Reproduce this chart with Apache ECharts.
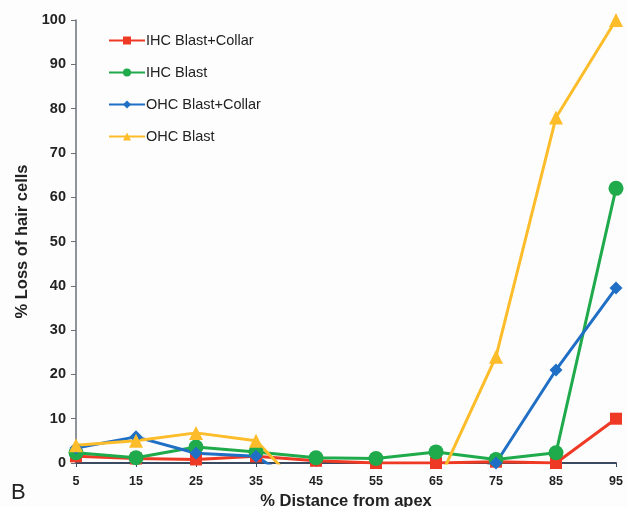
<!DOCTYPE html>
<html><head><meta charset="utf-8">
<script src="https://cdn.jsdelivr.net/npm/echarts@6/dist/echarts.min.js"></script>
<style>html,body{margin:0;padding:0;background:#fdfdfd;}#c{width:627px;height:507px;}</style>
</head><body><div id="c"></div>
<script>
const categories = ['5','15','25','35','45','55','65','75','85','95'];
const ihcBlastCollar = [1.5, 1, 0.8, 1.5, 0.5, 0, 0, 0.3, 0, 10];
const ihcBlast = [2.3, 1.2, 3.6, 2.5, 1.2, 1, 2.5, 0.8, 2.3, 62];
const ohcBlastCollar = [3.4, 5.9, 2.2, 1.5, -7, -6, -5, 0, 21, 39.5];
const ohcBlast = [4, 5, 6.8, 5, -9, -7, -5.3, 24, 78, 100];
const yTicks = [0, 10, 20, 30, 40, 50, 60, 70, 80, 90, 100];

const chart = echarts.init(document.getElementById('c'));
const font = 'Liberation Sans, Arial, sans-serif';
function s(name, data, color, symbol, size) {
  return {name, type:'line', data, symbol, symbolSize:size, clip:true,
    lineStyle:{color, width:3}, itemStyle:{color}, color};
}
chart.setOption({
  backgroundColor:'#fdfdfd',
  animation:false,
  textStyle:{fontFamily:font},
  grid:{left:76, right:11, top:20, bottom:44, containLabel:false, outerBoundsMode:'none'},
  legend:{orient:'vertical', left:103, top:28, itemGap:17, itemWidth:36, itemHeight:10,
    textStyle:{fontSize:14.5, color:'#222', fontFamily:font, padding:[0,0,0,-4]}},
  xAxis:{type:'category', data:categories, boundaryGap:false,
    axisLine:{lineStyle:{color:'#3a4a60', width:2}},
    axisTick:{show:true, alignWithLabel:true, length:4, lineStyle:{color:'#3a4a60'}},
    axisLabel:{fontSize:12.5, fontWeight:'bold', color:'#222', margin:12},
    name:'% Distance from apex', nameLocation:'middle', nameGap:24,
    nameTextStyle:{fontSize:16.5, fontWeight:'bold', color:'#222'}},
  yAxis:{type:'value', min:0, max:100, interval:10,
    splitLine:{show:false},
    axisLine:{show:true, lineStyle:{color:'#6a7078', width:1.5}},
    axisTick:{show:true, length:5, lineStyle:{color:'#6a7078'}},
    axisLabel:{fontSize:14.5, fontWeight:'bold', color:'#222', margin:10,
      formatter:v=>yTicks.includes(v)?String(v):''},
    name:'% Loss of hair cells', nameLocation:'middle', nameGap:44,
    nameTextStyle:{fontSize:16.5, fontWeight:'bold', color:'#222'}},
  graphic:[{type:'text', left:11, top:482, style:{text:'B', fontSize:22, fill:'#222', fontFamily:font}}],
  series:[
    s('IHC Blast+Collar', ihcBlastCollar, '#ee3a24', 'rect', 12),
    s('IHC Blast', ihcBlast, '#1faa4b', 'circle', 15),
    s('OHC Blast+Collar', ohcBlastCollar, '#1f6fc5', 'diamond', 13),
    s('OHC Blast', ohcBlast, '#fdbd2a', 'triangle', 14)
  ]
});
</script></body></html>
